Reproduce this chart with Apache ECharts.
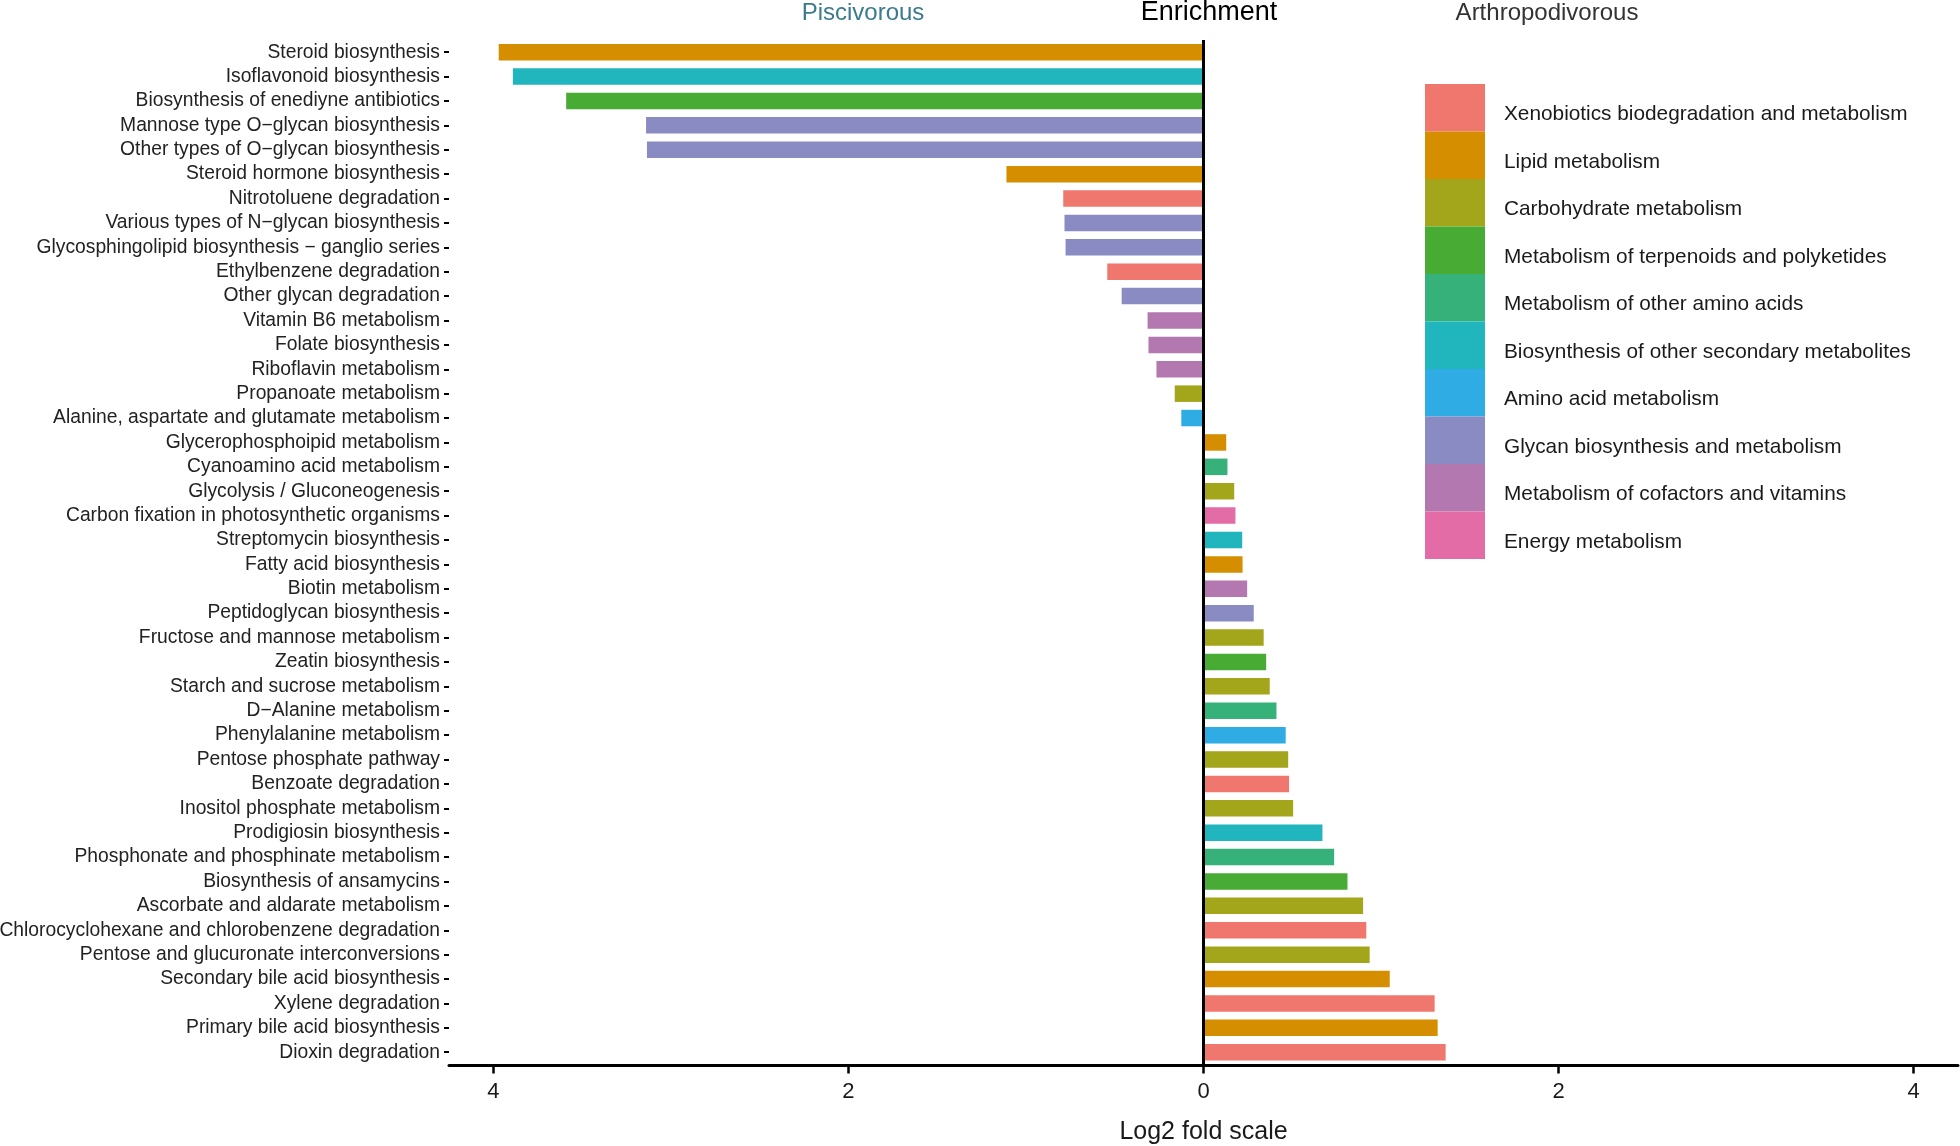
<!DOCTYPE html>
<html>
<head>
<meta charset="utf-8">
<title>Enrichment</title>
<script src="https://cdn.jsdelivr.net/npm/echarts@6/dist/echarts.min.js"></script>
<style>
  html, body { margin: 0; padding: 0; background: #fff; }
  #chart { width: 1960px; height: 1146px; }
</style>
</head>
<body>
<div id="chart"></div>
<script>
// pathways, top to bottom
var categories = [
  'Steroid biosynthesis',
  'Isoflavonoid biosynthesis',
  'Biosynthesis of enediyne antibiotics',
  'Mannose type O\u2212glycan biosynthesis',
  'Other types of O\u2212glycan biosynthesis',
  'Steroid hormone biosynthesis',
  'Nitrotoluene degradation',
  'Various types of N\u2212glycan biosynthesis',
  'Glycosphingolipid biosynthesis \u2212 ganglio series',
  'Ethylbenzene degradation',
  'Other glycan degradation',
  'Vitamin B6 metabolism',
  'Folate biosynthesis',
  'Riboflavin metabolism',
  'Propanoate metabolism',
  'Alanine, aspartate and glutamate metabolism',
  'Glycerophosphoipid metabolism',
  'Cyanoamino acid metabolism',
  'Glycolysis / Gluconeogenesis',
  'Carbon fixation in photosynthetic organisms',
  'Streptomycin biosynthesis',
  'Fatty acid biosynthesis',
  'Biotin metabolism',
  'Peptidoglycan biosynthesis',
  'Fructose and mannose metabolism',
  'Zeatin biosynthesis',
  'Starch and sucrose metabolism',
  'D\u2212Alanine metabolism',
  'Phenylalanine metabolism',
  'Pentose phosphate pathway',
  'Benzoate degradation',
  'Inositol phosphate metabolism',
  'Prodigiosin biosynthesis',
  'Phosphonate and phosphinate metabolism',
  'Biosynthesis of ansamycins',
  'Ascorbate and aldarate metabolism',
  'Chlorocyclohexane and chlorobenzene degradation',
  'Pentose and glucuronate interconversions',
  'Secondary bile acid biosynthesis',
  'Xylene degradation',
  'Primary bile acid biosynthesis',
  'Dioxin degradation'
];

// log2 fold (negative = piscivorous)
var values = [
  -3.97, -3.89, -3.59, -3.14, -3.135, -1.11, -0.79, -0.783, -0.777, -0.542,
  -0.461, -0.315, -0.31, -0.265, -0.162, -0.125,
  0.128, 0.135, 0.173, 0.18, 0.218, 0.22, 0.246, 0.283, 0.339, 0.353,
  0.373, 0.411, 0.463, 0.477, 0.482, 0.505, 0.67, 0.736, 0.811, 0.899,
  0.917, 0.936, 1.049, 1.302, 1.319, 1.364
];

// index into groupNames for every pathway
var groupOf = [
  1, 5, 3, 7, 7, 1, 0, 7, 7, 0,
  7, 8, 8, 8, 2, 6,
  1, 4, 2, 9, 5, 1, 8, 7, 2, 3,
  2, 4, 6, 2, 0, 2, 5, 4, 3, 2,
  0, 2, 1, 0, 1, 0
];

var groupNames = [
  'Xenobiotics biodegradation and metabolism',
  'Lipid metabolism',
  'Carbohydrate metabolism',
  'Metabolism of terpenoids and polyketides',
  'Metabolism of other amino acids',
  'Biosynthesis of other secondary metabolites',
  'Amino acid metabolism',
  'Glycan biosynthesis and metabolism',
  'Metabolism of cofactors and vitamins',
  'Energy metabolism'
];

var groupColors = [
  '#ef776e', '#d58e00', '#a3a51a', '#48ab33', '#35b179',
  '#21b5bd', '#2face3', '#8a8bc2', '#b378b0', '#e46ca6'
];

var xTicks = [-4, -2, 0, 2, 4];

var font = '"Liberation Sans", Arial, sans-serif';

var chart = echarts.init(document.getElementById('chart'));

var series = groupNames.map(function (name, g) {
  return {
    name: name,
    type: 'bar',
    barWidth: 16.5,
    barGap: '-100%',
    itemStyle: { color: groupColors[g] },
    data: values.map(function (v, i) { return groupOf[i] === g ? v : '-'; })
  };
});

// zero line
series[0].markLine = {
  silent: true,
  symbol: 'none',
  label: { show: false },
  lineStyle: { color: '#000', width: 3, type: 'solid' },
  data: [{ xAxis: 0 }]
};

var option = {
  animation: false,
  backgroundColor: '#fff',
  textStyle: { fontFamily: font },
  grid: {
    left: 449,
    right: 2,
    top: 40,
    height: 1024.4,
    containLabel: false,
    outerBoundsMode: 'none'
  },
  legend: {
    orient: 'vertical',
    left: 1420,
    top: 79,
    itemWidth: 60,
    itemHeight: 47.5,
    itemGap: 0,
    icon: 'rect',
    selectedMode: false,
    formatter: '{t|{name}}',
    textStyle: {
      fontFamily: font,
      fontSize: 20.8,
      color: '#1a1a1a',
      rich: {
        t: {
          fontFamily: font,
          fontSize: 20.8,
          color: '#1a1a1a',
          padding: [14, 0, 0, 14]
        }
      }
    },
    data: groupNames
  },
  xAxis: {
    type: 'value',
    min: -4.25,
    max: 4.25,
    offset: 1,
    splitLine: { show: false },
    axisLine: { show: true, lineStyle: { color: '#000', width: 3 } },
    axisTick: {
      show: true,
      length: 8,
      customValues: xTicks,
      lineStyle: { color: '#000', width: 2.5 }
    },
    axisLabel: {
      customValues: xTicks,
      fontFamily: font,
      fontSize: 22,
      color: '#1a1a1a',
      margin: 16,
      formatter: function (v) { return String(Math.abs(v)); }
    },
    name: 'Log2 fold scale',
    nameLocation: 'middle',
    nameGap: 54,
    nameTextStyle: { fontFamily: font, fontSize: 25, color: '#1a1a1a' }
  },
  yAxis: {
    type: 'category',
    inverse: true,
    data: categories,
    axisLine: { show: false, onZero: false },
    axisTick: {
      show: true,
      alignWithLabel: true,
      interval: 0,
      length: 5,
      lineStyle: { color: '#000', width: 2 }
    },
    axisLabel: {
      interval: 0,
      fontFamily: font,
      fontSize: 19.3,
      color: '#222',
      margin: 9
    }
  },
  graphic: [
    {
      type: 'text', x: 863, y: 13,
      style: { text: 'Piscivorous', fill: '#3a7b8c', font: '24px ' + font, textAlign: 'center', textVerticalAlign: 'middle' }
    },
    {
      type: 'text', x: 1209, y: 13,
      style: { text: 'Enrichment', fill: '#000', font: '27px ' + font, textAlign: 'center', textVerticalAlign: 'middle' }
    },
    {
      type: 'text', x: 1547, y: 13,
      style: { text: 'Arthropodivorous', fill: '#333', font: '24px ' + font, textAlign: 'center', textVerticalAlign: 'middle' }
    }
  ],
  series: series
};

chart.setOption(option);
</script>
</body>
</html>
